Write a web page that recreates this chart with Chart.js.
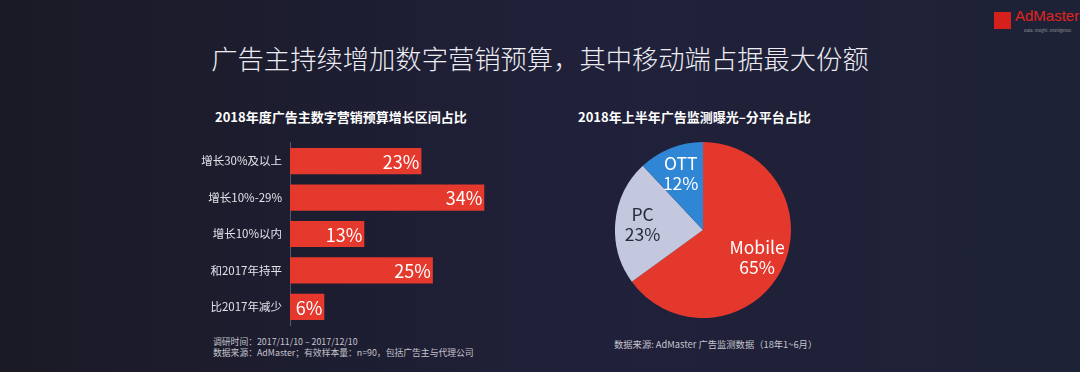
<!DOCTYPE html>
<html lang="zh">
<head>
<meta charset="UTF-8">
<title>广告主持续增加数字营销预算</title>
<style>
  body {
    margin: 0;
    width: 1080px;
    height: 372px;
    overflow: hidden;
    position: relative;
    background: linear-gradient(90deg, #1a1a26 0%, #20203a 55%, #1e2236 100%);
    font-family: "Noto Sans CJK SC", "Noto Sans", sans-serif;
    color: #fff;
  }
  .abs { position: absolute; white-space: nowrap; }
  #title {
    left: 0; width: 1080px; top: 40px; text-align: center;
    font-size: 26.3px; color: #ececf2; font-weight: 300; line-height: 36px;
  }
  .subtitle { font-size: 13px; font-weight: bold; top: 107px; line-height: 20px; }
  .note { font-size: 8.8px; color: #c4c4cc; line-height: 11px; }
  #barCanvas { position: absolute; left: 190px; top: 128px; }
  #pieCanvas { position: absolute; left: 615px; top: 142px; }
  #logoBox {
    left: 994px; top: 12px; width: 17px; height: 17px; background: #d6201c;
  }
  #logoText { left: 1015px; top: 7px; font-size: 15px; color: #e2231e; font-family: "Liberation Sans", sans-serif; }
  #logoTag { left: 1024px; top: 27px; font-size: 4px; color: #999; }
</style>
</head>
<body>
<div id="title" class="abs">广告主持续增加数字营销预算，其中移动端占据最大份额</div>
<div class="abs subtitle" style="left:215px;">2018年度广告主数字营销预算增长区间占比</div>
<div class="abs subtitle" style="left:578px;">2018年上半年广告监测曝光–分平台占比</div>
<div class="abs note" style="left:213px; top:336px;">调研时间：2017/11/10 – 2017/12/10</div>
<div class="abs note" style="left:213px; top:347px;">数据来源：AdMaster；有效样本量：n=90，包括广告主与代理公司</div>
<div class="abs note" style="left:614px; top:339px; font-size:9.3px;">数据来源: AdMaster 广告监测数据（18年1~6月）</div>
<div id="logoBox" class="abs"></div>
<div id="logoText" class="abs">AdMaster</div>
<div id="logoTag" class="abs">Data. Insight. Intelligence.</div>

<canvas id="barCanvas" width="320" height="212"></canvas>
<canvas id="pieCanvas" width="176" height="176"></canvas>

<script src="https://cdn.jsdelivr.net/npm/chart.js"></script>
<script>
  // bar chart data
  const budgetCategories = ["增长30%及以上", "增长10%-29%", "增长10%以内", "和2017年持平", "比2017年减少"];
  const budgetShares = [23, 34, 13, 25, 6];

  // pie chart data
  const platformLabels = ["Mobile", "PC", "OTT"];
  const platformShares = [65, 23, 12];
  const platformColors = ["#e5382d", "#c3c8de", "#2f86d4"];
  const platformTextColors = ["#ffffff", "#262a3c", "#ffffff"];

  const cjk = '"Noto Sans CJK SC", "Noto Sans", sans-serif';

  // value labels inside the end of each bar
  const barValuePlugin = {
    id: "barValues",
    afterDatasetsDraw(chart) {
      const ctx = chart.ctx;
      const meta = chart.getDatasetMeta(0);
      ctx.save();
      ctx.fillStyle = "#ffffff";
      ctx.font = "18px " + cjk;
      ctx.textAlign = "right";
      ctx.textBaseline = "middle";
      meta.data.forEach((bar, i) => {
        ctx.fillText(budgetShares[i] + "%", bar.x - 2, bar.y + 1);
      });
      ctx.restore();
    }
  };

  new Chart(document.getElementById("barCanvas"), {
    type: "bar",
    data: {
      labels: budgetCategories,
      datasets: [{
        data: budgetShares,
        backgroundColor: "#e5392d",
        borderWidth: 0,
        barPercentage: 0.72,
        categoryPercentage: 1
      }]
    },
    options: {
      indexAxis: "y",
      responsive: false,
      animation: false,
      layout: { padding: { top: 3, bottom: 3, left: 0, right: 0 } },
      plugins: { legend: { display: false }, tooltip: { enabled: false } },
      scales: {
        x: { display: false, min: 0, max: 38.5 },
        y: {
          afterFit(scale) { scale.width = 100; },
          grid: { display: false, drawTicks: false },
          border: { display: true, color: "#55576a", width: 1 },
          ticks: { color: "#e2e2ea", font: { size: 11.5, family: cjk }, padding: 8 }
        }
      }
    },
    plugins: [barValuePlugin]
  });

  // two-line labels inside the pie slices
  const pieLabelPlugin = {
    id: "pieLabels",
    afterDatasetsDraw(chart) {
      const ctx = chart.ctx;
      const meta = chart.getDatasetMeta(0);
      ctx.save();
      ctx.font = "17.5px " + cjk;
      ctx.textAlign = "center";
      ctx.textBaseline = "middle";
      meta.data.forEach((arc, i) => {
        const mid = (arc.startAngle + arc.endAngle) / 2;
        const r = arc.outerRadius * 0.69;
        const x = arc.x + Math.cos(mid) * r;
        const y = arc.y + Math.sin(mid) * r;
        ctx.fillStyle = platformTextColors[i];
        ctx.fillText(platformLabels[i], x, y - 10);
        ctx.fillText(platformShares[i] + "%", x, y + 10);
      });
      ctx.restore();
    }
  };

  new Chart(document.getElementById("pieCanvas"), {
    type: "pie",
    data: {
      labels: platformLabels,
      datasets: [{
        data: platformShares,
        backgroundColor: platformColors,
        borderWidth: 0
      }]
    },
    options: {
      responsive: false,
      animation: false,
      layout: { padding: 0 },
      plugins: { legend: { display: false }, tooltip: { enabled: false } }
    },
    plugins: [pieLabelPlugin]
  });
</script>
</body>
</html>
